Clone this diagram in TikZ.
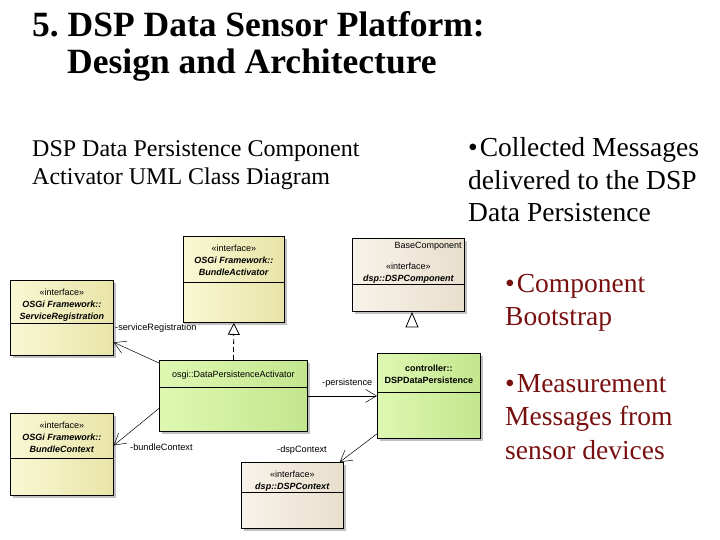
\documentclass[tikz,border=0pt]{standalone}
\usepackage{fontspec}
\setmainfont{Liberation Serif}
\newfontfamily\umlfont{Liberation Sans}
\usetikzlibrary{arrows.meta,shadows}

\definecolor{yelL}{RGB}{250,248,212}
\definecolor{yelR}{RGB}{232,228,168}
\definecolor{grnL}{RGB}{222,248,178}
\definecolor{grnR}{RGB}{196,230,142}
\definecolor{begL}{RGB}{248,243,234}
\definecolor{begR}{RGB}{232,222,204}
\definecolor{bulletred}{RGB}{120,16,16}

\tikzset{
  cls/.style={draw=black, line width=0.8pt, anchor=north west, inner sep=0pt,
    drop shadow={shadow xshift=3pt, shadow yshift=-3pt, fill=black!30, opacity=.8}},
  yelcls/.style={cls, left color=yelL, right color=yelR},
  grncls/.style={cls, left color=grnL, right color=grnR},
  begcls/.style={cls, left color=begL, right color=begR},
  clstext/.style={font=\umlfont\fontsize{9}{12}\selectfont, align=center, inner sep=0pt},
  lbl/.style={font=\umlfont\fontsize{9.2}{11}\selectfont, inner sep=0pt, anchor=west},
  assoc/.style={-{Straight Barb[length=11pt,width=13pt]}, line width=0.5pt},
  realize/.style={dashed, dash pattern=on 5pt off 3pt, -{Triangle[open,length=12pt,width=12pt,fill=white]}, line width=0.8pt},
  slidetext/.style={inner sep=0pt, anchor=base west, align=left}
}

\begin{document}
\begin{tikzpicture}[x=1pt,y=-1pt]
  \useasboundingbox (0,0) rectangle (720,540);

  % title and captions (anchored at the baseline of the last line)
  \node[slidetext, font=\bfseries\fontsize{35.5}{37}\selectfont] (title) at (32,74)
    {5.\ DSP Data Sensor Platform:\\\hspace{35pt}Design and Architecture};
  \node[slidetext, font=\fontsize{24}{28}\selectfont] (caption) at (32,185)
    {DSP Data Persistence Component\\Activator UML Class Diagram};
  \node[slidetext, font=\fontsize{27.5}{32.5}\selectfont] (note1) at (468,222)
    {•\kern2pt Collected Messages\\delivered to the DSP\\Data Persistence};
  \node[slidetext, font=\fontsize{27.5}{33}\selectfont, text=bulletred] (note2) at (505,325)
    {•\kern2pt Component\\Bootstrap};
  \node[slidetext, font=\fontsize{27.5}{33.5}\selectfont, text=bulletred] (note3) at (505,459)
    {•\kern2pt Measurement\\Messages from\\sensor devices};

  % classes
  \node[yelcls, minimum width=101pt, minimum height=86pt] (bact) at (183,236) {};
  \node[clstext] at (bact.north |- 0,260) {«interface»\\\textbf{\textit{OSGi Framework::}}\\\textbf{\textit{BundleActivator}}};
  \draw (bact.west |- 0,282) -- (bact.east |- 0,282);

  \node[yelcls, minimum width=103pt, minimum height=75pt] (sreg) at (10,280) {};
  \node[clstext] at (sreg.north |- 0,305) {«interface»\\\textbf{\textit{OSGi Framework::}}\\\textbf{\textit{ServiceRegistration}}};
  \draw (sreg.west |- 0,323) -- (sreg.east |- 0,323);

  \node[begcls, minimum width=112pt, minimum height=73pt] (dcomp) at (352,238) {};
  \node[clstext, anchor=east] at ([xshift=-3pt]dcomp.east |- 0,246) {BaseComponent};
  \node[clstext] at (dcomp.north |- 0,273) {«interface»\\\textbf{\textit{dsp::DSPComponent}}};
  \draw (dcomp.west |- 0,284) -- (dcomp.east |- 0,284);
  \draw[line width=0.8pt, fill=white] (406,327) -- (412,313) -- (418,327) -- cycle;

  \node[grncls, minimum width=148pt, minimum height=71pt] (act) at (159,360) {};
  \node[clstext] at (act.north |- 0,375) {osgi::DataPersistenceActivator};
  \draw (act.west |- 0,387) -- (act.east |- 0,387);

  \node[grncls, minimum width=103pt, minimum height=85pt] (dpers) at (377,353) {};
  \node[clstext] at (dpers.north |- 0,374) {\textbf{controller::}\\\textbf{DSPDataPersistence}};
  \draw (dpers.west |- 0,392) -- (dpers.east |- 0,392);

  \node[yelcls, minimum width=103pt, minimum height=82pt] (bctx) at (10,413) {};
  \node[clstext] at (bctx.north |- 0,437) {«interface»\\\textbf{\textit{OSGi Framework::}}\\\textbf{\textit{BundleContext}}};
  \draw (bctx.west |- 0,458) -- (bctx.east |- 0,458);

  \node[begcls, minimum width=102pt, minimum height=66pt] (dctx) at (241,462) {};
  \node[clstext] at (dctx.north |- 0,481) {«interface»\\\textbf{\textit{dsp::DSPContext}}};
  \draw (dctx.west |- 0,492) -- (dctx.east |- 0,492);

  % connectors
  \draw[realize] (act.north) -- (bact.south);
  \draw[assoc] ([yshift=-3pt]act.north west) -- ([yshift=-24.5pt]sreg.east);
  \draw[assoc] (act.east) -- (dpers.west);
  \draw[assoc] ([yshift=-12.5pt]act.west) -- ([yshift=9pt]bctx.east);
  \draw[assoc] ([yshift=5pt]dpers.south west) -- ([xshift=-4pt]dctx.north east);

  % role names
  \node[lbl] (lsreg) at (115,328) {-serviceRegistration};
  \node[lbl] (lpers) at (322,383) {-persistence};
  \node[lbl] (lbctx) at (130,447) {-bundleContext};
  \node[lbl] (ldctx) at (277,450) {-dspContext};
\end{tikzpicture}
\end{document}
